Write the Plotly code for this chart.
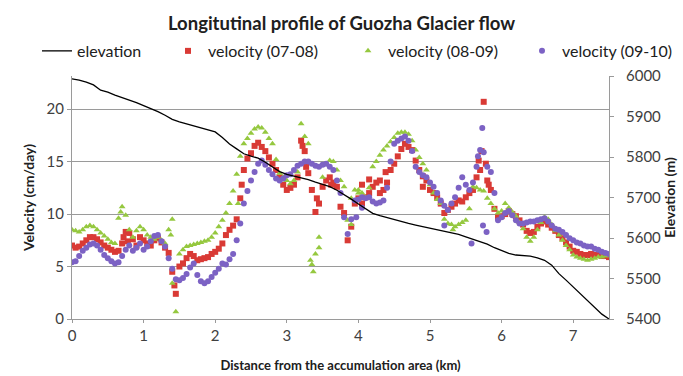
import plotly.graph_objects as go

# ---------------- data ----------------
dist = [round(i * 0.05, 2) for i in range(151)]

vel_0708 = [
    7.0, 6.8, 6.9, 7.2, 7.5, 7.8, 7.8, 7.6, 7.3, 7.0,
    6.8, 6.6, 6.4, 6.5, 7.2, 8.3, 8.2, 7.6, 7.0, 7.8,
    7.5, 7.2, 7.0, 7.5, 7.7, 7.3, 6.8, 6.3, 4.5, 2.4,
    5.0, 5.3, 5.8, 6.2, 6.0, 5.6, 5.7, 5.8, 5.9, 6.2,
    6.4, 6.7, 7.2, 8.0, 8.5, 8.9, 9.5, 11.5, 14.2, 15.3,
    15.8, 16.5, 16.8, 16.4, 16.0, 15.4, 14.8, 14.2, 13.5, 12.8,
    12.3, 12.5, 12.8, 13.5, 17.0, 16.0, 13.9, 12.3, 10.2, 11.0,
    12.6, 13.2, 13.5, 13.0, 12.6, 10.7, 10.1, 7.5, 8.8, 11.0,
    11.5, 11.0, 11.6, 12.0, 12.6, 13.0, 13.2, 12.3, 13.0, 14.2,
    14.8, 15.5, 16.2, 16.7, 16.4, 16.1, 15.1, 14.2, 13.6, 13.2,
    12.3, 12.0, 11.6, 11.0, 10.1, 10.4, 10.7, 11.0, 11.3, 11.2,
    11.6, 12.0, 12.3, 13.5, 14.2, 20.7, 13.2, 12.3, 10.5, 9.7,
    9.8, 10.0, 10.3, 10.0, 9.8, 9.4, 9.0, 8.4, 8.2, 8.3,
    8.8, 9.1, 9.3, 9.0, 8.7, 8.4, 8.0, 7.7, 7.3, 6.9,
    6.5, 6.4, 6.2, 6.1, 6.1, 6.2, 6.1, 6.1, 6.0, 6.0,
    5.9,
]
extra_0708_x = [0.72, 0.78, 1.43, 2.37, 3.22, 3.27, 3.42, 3.62, 4.05, 4.15, 4.30, 4.38, 4.90, 5.68, 5.72, 5.78, 5.82]
extra_0708_v = [7.8, 7.4, 3.2, 12.8, 16.5, 14.5, 11.5, 12.8, 12.8, 13.3, 12.0, 14.0, 12.6, 15.1, 16.0, 14.8, 12.8]

vel_0809 = [
    8.5, 8.4, 8.3, 8.5, 8.8, 8.9, 8.8, 8.5, 8.2, 7.9,
    7.6, 7.3, 7.2, 9.6, 10.7, 9.9, 8.5, 7.8, 8.4, 8.8,
    8.5, 8.0, 7.8, 7.6, 7.8, 7.5, 7.2, 8.5, 9.5, 0.7,
    6.2, 6.6, 6.9, 7.0, 7.1, 7.2, 7.3, 7.4, 7.5, 7.8,
    8.2, 8.8, 9.4, 10.1, 11.0, 12.2, 13.8, 15.5, 16.7, 17.2,
    17.7, 18.1, 18.3, 18.2, 17.8, 17.2, 16.7, 15.2, 13.9, 13.5,
    13.2, 12.9, 13.2, 14.0, 18.6, 17.4, 16.7, 5.2, 6.2, 7.8,
    13.5, 14.8, 15.1, 15.0, 14.2, 13.2, 12.6, 9.4, 11.5, 12.3,
    12.3, 12.0, 11.6, 12.5, 14.5, 15.0, 15.6, 16.1, 16.5, 16.9,
    17.3, 17.7, 17.8, 17.8, 17.6, 17.0, 16.1, 15.4, 14.8, 14.2,
    12.8, 12.0, 11.4, 11.0, 9.5, 9.1, 9.0, 8.8, 9.0, 9.2,
    9.4, 10.5, 12.6, 12.5, 12.3, 12.2, 11.5, 11.0, 10.5, 10.1,
    10.3, 11.0, 10.6, 10.2, 9.8, 9.2, 8.6, 7.8, 7.4, 7.8,
    8.5, 9.2, 9.7, 9.5, 9.0, 8.4, 8.0, 7.5, 7.0, 6.6,
    6.1, 5.9, 5.8, 5.7, 5.6, 5.7, 5.8, 5.9, 5.9, 6.0,
    6.1,
]
extra_0809_x = [0.68, 1.38, 1.40, 2.32, 3.33, 3.37, 3.45, 3.90, 4.00, 5.32]
extra_0809_v = [10.2, 8.0, 3.4, 11.0, 5.6, 4.5, 6.8, 9.0, 12.0, 8.5]

vel_0910 = [
    5.4, 5.5, 6.0, 6.5, 6.8, 7.1, 7.2, 7.0, 6.6, 6.1,
    5.8, 5.5, 5.3, 5.4, 6.0, 6.6, 7.0, 6.5, 6.8, 7.2,
    6.6, 6.9, 7.4, 7.9, 8.0, 7.4, 6.9, 5.8, 4.8, 3.8,
    3.7, 3.9, 4.3, 4.9, 5.3, 4.2, 3.6, 3.4, 3.6, 4.0,
    4.4, 4.8, 5.3, 5.2, 5.7, 6.2, 7.5, 9.1, 11.0, 12.2,
    13.2, 14.0, 14.8, 15.1, 14.7, 14.2, 13.8, 13.4, 13.2, 13.4,
    13.7, 13.8, 14.2, 14.6, 14.8, 15.0, 15.0, 14.8, 14.6, 14.5,
    14.7, 14.8, 14.5, 14.2, 13.2, 12.0, 9.7, 8.1, 9.5, 11.3,
    11.4, 11.6, 11.5, 11.6, 11.2, 11.0, 11.1, 11.3, 12.5, 15.0,
    16.7, 17.0, 17.2, 17.4, 17.0, 16.0, 14.5, 14.0, 13.7, 13.5,
    13.0, 12.6, 12.0, 11.3, 10.8, 10.4, 11.0, 11.6, 12.5, 13.5,
    12.8, 12.3, 13.0, 14.5, 16.1, 15.9, 14.5, 14.0, 12.0, 9.4,
    9.7, 10.1, 10.3, 9.9, 9.4, 9.1, 9.1, 9.2, 9.3, 9.3,
    9.4, 9.5, 9.6, 9.3, 8.9, 8.6, 8.5, 8.3, 8.0, 7.7,
    7.5, 7.3, 7.2, 7.0, 6.9, 6.9, 6.7, 6.6, 6.4, 6.3,
    6.2,
]
extra_0910_x = [3.97, 4.05, 5.20, 5.58, 5.67, 5.73, 5.74, 5.79]
extra_0910_v = [9.7, 10.6, 8.9, 7.2, 15.5, 18.2, 8.9, 8.3]

elev_dist = [round(i * 0.1, 1) for i in range(76)]
elevation = [
    5993, 5990, 5985, 5978, 5965, 5960, 5953, 5947, 5941, 5934,
    5927, 5920, 5912, 5903, 5893, 5887, 5882, 5878, 5873, 5868,
    5862, 5848, 5832, 5820, 5808, 5802, 5797, 5787, 5775, 5764,
    5757, 5753, 5749, 5744, 5738, 5733, 5727, 5718, 5708, 5696,
    5684, 5672, 5661, 5655, 5650, 5645, 5640, 5636, 5632, 5628,
    5625, 5621, 5617, 5613, 5609, 5603, 5597, 5591, 5585, 5576,
    5568, 5562, 5558, 5557, 5555, 5551, 5545, 5533, 5512, 5496,
    5479, 5462, 5446, 5428, 5412, 5400,
]

x_ticks = [0, 1, 2, 3, 4, 5, 6, 7]
v_ticks = [0, 5, 10, 15, 20]
e_ticks = [5400, 5500, 5600, 5700, 5800, 5900, 6000]

RED = "#D93A35"
GREEN = "#95C83F"
PURPLE = "#7C62C4"
FONT = "Lato"
AXC = "#9a9a9a"
TITLEC = "#202020"

fig = go.Figure()

def add_series(xs, vs, exs, evs, name, color, symbol, legend):
    fig.add_trace(go.Scatter(
        x=xs + exs, y=vs + evs, mode="markers", name=name,
        marker=dict(color=color, size=6, symbol=symbol, line=dict(width=0)),
        yaxis="y", legend=legend,
    ))

add_series(dist, vel_0708, extra_0708_x, extra_0708_v, "velocity (07-08)", RED, "square", "legend2")
add_series(dist, vel_0809, extra_0809_x, extra_0809_v, "velocity (08-09)", GREEN, "triangle-up", "legend3")
add_series(dist, vel_0910, extra_0910_x, extra_0910_v, "velocity (09-10)", PURPLE, "circle", "legend4")

fig.add_trace(go.Scatter(
    x=elev_dist, y=elevation, mode="lines", name="elevation",
    line=dict(color="black", width=1.3), yaxis="y2", legend="legend",
))

def leg(xp):
    return dict(orientation="h", x=xp, xanchor="left", y=1.103, yanchor="middle",
                font=dict(size=16, color=TITLEC), bgcolor="rgba(0,0,0,0)",
                borderwidth=0, itemsizing="trace")

fig.update_layout(
    width=683, height=376,
    margin=dict(l=72, r=74, t=76, b=57, autoexpand=False),
    paper_bgcolor="white", plot_bgcolor="white",
    font=dict(family=FONT, size=15, color="#404040"),
    title=dict(text="<b>Longitutinal profile of Guozha Glacier flow</b>",
               x=0.5, xanchor="center", y=0.938, yanchor="middle",
               font=dict(size=18.5, color=TITLEC)),
    showlegend=True,
    legend=leg(-0.0652),
    legend2=leg(0.1788),
    legend3=leg(0.514),
    legend4=leg(0.838),
    xaxis=dict(range=[0, 7.5], tickvals=x_ticks, showgrid=False, zeroline=False,
               showline=True, linecolor=AXC, linewidth=1, automargin=False,
               ticks="outside", ticklen=3, tickcolor=AXC,
               title=dict(text="<b>Distance from the accumulation area (km)</b>",
                          font=dict(size=13, color=TITLEC), standoff=17),
               tickfont=dict(size=15)),
    yaxis=dict(range=[0, 23.16], tickvals=v_ticks, showgrid=True, gridcolor=AXC,
               gridwidth=1, zeroline=False, showline=True, linecolor=AXC, automargin=False,
               ticks="outside", ticklen=4, tickcolor=AXC,
               title=dict(text="<b>Velocity (cm/day)</b>", font=dict(size=14, color=TITLEC),
                          standoff=8),
               tickfont=dict(size=15)),
    yaxis2=dict(range=[5400, 6000], tickvals=e_ticks, overlaying="y", side="right",
                showgrid=False, zeroline=False, showline=True, linecolor=AXC, automargin=False,
                ticks="outside", ticklen=4, tickcolor=AXC, ticklabelstandoff=9,
                title=dict(text="<b>Elevation (m)</b>", font=dict(size=14, color=TITLEC),
                           standoff=1),
                tickfont=dict(size=15)),
)

fig.write_html("out.html")
